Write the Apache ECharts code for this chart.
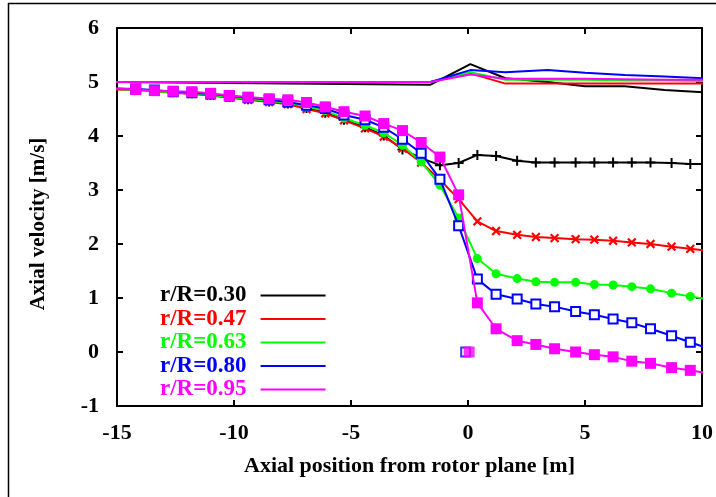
<!DOCTYPE html>
<html>
<head>
<meta charset="utf-8">
<script src="https://cdn.jsdelivr.net/npm/echarts@6/dist/echarts.min.js"></script>
<style>
html,body{margin:0;padding:0;background:#fff;}
#chart{width:716px;height:497px;}
</style>
</head>
<body>
<div id="chart"></div>
<script>
// ---- data ----
const seriesNames = ['r/R=0.30', 'r/R=0.47', 'r/R=0.63', 'r/R=0.80', 'r/R=0.95'];
const xTicks = [-15, -10, -5, 0, 5, 10];
const yTicks = [-1, 0, 1, 2, 3, 4, 5, 6];

// marker curves
const xPos = [-15.1, -14.2, -13.4, -12.6, -11.8, -11.0, -10.2, -9.4, -8.5, -7.7,
              -6.9, -6.1, -5.3, -4.4, -3.6, -2.8, -2.0, -1.2, -0.4, 0.4,
              1.2, 2.1, 2.9, 3.7, 4.6, 5.4, 6.2, 7.0, 7.8, 8.7, 9.5, 10.3];
const v030 = [4.87, 4.86, 4.84, 4.81, 4.79, 4.76, 4.72, 4.68, 4.64, 4.60,
              4.52, 4.43, 4.30, 4.16, 4.01, 3.75, 3.59, 3.46, 3.50, 3.65,
              3.63, 3.54, 3.51, 3.51, 3.51, 3.51, 3.51, 3.51, 3.51, 3.50, 3.48, 3.48];
const v047 = [4.86, 4.85, 4.83, 4.80, 4.78, 4.75, 4.71, 4.67, 4.63, 4.59,
              4.50, 4.42, 4.29, 4.14, 3.99, 3.77, 3.51, 3.19, 2.83, 2.42,
              2.24, 2.17, 2.13, 2.11, 2.09, 2.08, 2.06, 2.03, 2.00, 1.95, 1.91, 1.87];
const v063 = [4.87, 4.85, 4.83, 4.81, 4.79, 4.76, 4.72, 4.69, 4.65, 4.62,
              4.54, 4.47, 4.33, 4.20, 4.06, 3.83, 3.52, 3.09, 2.48, 1.73,
              1.45, 1.36, 1.30, 1.29, 1.29, 1.25, 1.24, 1.21, 1.17, 1.09, 1.03, 0.97];
const v080 = [4.88, 4.87, 4.85, 4.82, 4.80, 4.78, 4.74, 4.71, 4.67, 4.63,
              4.57, 4.51, 4.39, 4.30, 4.16, 3.94, 3.68, 3.20, 2.34, 1.35,
              1.07, 0.98, 0.89, 0.84, 0.75, 0.69, 0.61, 0.54, 0.43, 0.30, 0.18, 0.06];
const v095 = [4.88, 4.86, 4.84, 4.83, 4.82, 4.79, 4.75, 4.72, 4.69, 4.67,
              4.62, 4.54, 4.45, 4.37, 4.23, 4.10, 3.88, 3.61, 2.91, 0.91,
              0.43, 0.21, 0.14, 0.06, 0.00, -0.05, -0.09, -0.17, -0.21, -0.29, -0.34, -0.40];

// plain curves near 5 m/s
const xTop = [-15.1, -1.6, 0.1, 1.6, 3.4, 5.0, 6.7, 8.4, 10.1];
const top030 = [5.00, 4.95, 5.33, 5.07, 5.00, 4.92, 4.92, 4.85, 4.81];
const top047 = [5.00, 5.00, 5.16, 4.97, 4.97, 4.97, 4.97, 4.97, 4.97];
const top063 = [5.00, 5.00, 5.18, 5.04, 5.04, 5.04, 5.03, 5.03, 5.02];
const top080 = [5.00, 5.00, 5.22, 5.18, 5.22, 5.17, 5.13, 5.10, 5.07];
const top095 = [5.00, 5.00, 5.14, 5.06, 5.06, 5.06, 5.05, 5.04, 5.04];

// isolated points at the rotor plane
const rotorBlue = [[-0.1, 0.0]];
const rotorMagenta = [[0.05, 0.0]];

const colors = ['#000000', '#ff0000', '#00ff00', '#0000ff', '#ff00ff'];
const markerVals = [v030, v047, v063, v080, v095];
const topVals = [top030, top047, top063, top080, top095];

const plusPath = 'path://M4,0H6V4H10V6H6V10H4V6H0V4H4Z';
const markers = [
  {symbol: plusPath, size: 10, rotate: 0},
  {symbol: plusPath, size: 11, rotate: 45},
  {symbol: 'circle', size: 9, rotate: 0},
  {symbol: 'emptyRect', size: 9, rotate: 0},
  {symbol: 'rect', size: 11, rotate: 0}
];

const FONT = '"Liberation Serif", "Times New Roman", serif';

function pairs(xs, ys) { return xs.map((x, i) => [x, ys[i]]); }

const series = [];
// plain top lines
for (let i = 0; i < 5; i++) {
  series.push({
    name: 'top ' + seriesNames[i], type: 'line', data: pairs(xTop, topVals[i]),
    symbol: 'none', lineStyle: {color: colors[i], width: 2}, itemStyle: {color: colors[i]},
    z: 2, animation: false
  });
}
// marker lines
for (let i = 0; i < 5; i++) {
  series.push({
    name: seriesNames[i], type: 'line', data: pairs(xPos, markerVals[i]),
    symbol: markers[i].symbol, symbolSize: markers[i].size, symbolRotate: markers[i].rotate,
    showAllSymbol: true,
    lineStyle: {color: colors[i], width: 2},
    itemStyle: {color: colors[i], borderColor: colors[i], borderWidth: i === 3 ? 1.5 : 0},
    z: 3 + i, animation: false
  });
}
series.push({name: 'rotor blue', type: 'scatter', data: rotorBlue, symbol: 'emptyRect', symbolSize: 9,
  itemStyle: {color: '#0000ff', borderColor: '#0000ff', borderWidth: 1.5}, z: 9, animation: false});
series.push({name: 'rotor magenta', type: 'scatter', data: rotorMagenta, symbol: 'rect', symbolSize: 11,
  itemStyle: {color: '#ff00ff'}, z: 10, animation: false});

const axisLine = {show: true, onZero: false, lineStyle: {color: '#000', width: 2}};
const tickIn = {show: true, inside: true, length: 6, lineStyle: {color: '#000', width: 2}};
const labelStyle = {color: '#000', fontFamily: FONT, fontWeight: 'bold', fontSize: 22};

const option = {
  animation: false,
  backgroundColor: '#fff',
  grid: {left: 117, right: 11, top: 28, bottom: 91, containLabel: false},
  xAxis: [{
    type: 'value', min: xTicks[0], max: xTicks[xTicks.length - 1], interval: 5,
    position: 'bottom', axisLine: axisLine, axisTick: tickIn, splitLine: {show: false},
    axisLabel: Object.assign({margin: 16}, labelStyle),
    name: 'Axial position from rotor plane [m]', nameLocation: 'middle', nameGap: 49,
    nameTextStyle: {color: '#000', fontFamily: FONT, fontWeight: 'bold', fontSize: 22}
  }, {
    type: 'value', min: xTicks[0], max: xTicks[xTicks.length - 1], interval: 5,
    position: 'top', axisLine: axisLine, axisTick: tickIn, splitLine: {show: false},
    axisLabel: {show: false}
  }],
  yAxis: [{
    type: 'value', min: yTicks[0], max: yTicks[yTicks.length - 1], interval: 1,
    position: 'left', axisLine: axisLine, axisTick: tickIn, splitLine: {show: false},
    axisLabel: Object.assign({margin: 18}, labelStyle),
    name: 'Axial velocity [m/s]', nameLocation: 'middle', nameGap: 68,
    nameTextStyle: {color: '#000', fontFamily: FONT, fontWeight: 'bold', fontSize: 21, padding: [0, 14, 0, 0]}
  }, {
    type: 'value', min: yTicks[0], max: yTicks[yTicks.length - 1], interval: 1,
    position: 'right', axisLine: axisLine, axisTick: tickIn, splitLine: {show: false},
    axisLabel: {show: false}
  }],
  legend: {
    orient: 'vertical', left: 160, top: 284, padding: 0,
    align: 'right', icon: 'rect', itemWidth: 65, itemHeight: 2, itemGap: 0.5,
    selectedMode: false,
    itemStyle: {borderWidth: 0},
    textStyle: {fontFamily: FONT, fontWeight: 'bold', fontSize: 23, lineHeight: 20, padding: [0, 9, 0, 0]},
    data: seriesNames.map((n, i) => ({name: n, textStyle: {color: colors[i]}, itemStyle: {color: colors[i], borderWidth: 0}}))
  },
  graphic: [
    {type: 'line', shape: {x1: 8.5, y1: 3, x2: 8.5, y2: 497}, style: {stroke: '#000', lineWidth: 1.5}, silent: true},
    {type: 'line', shape: {x1: 8, y1: 3.5, x2: 716, y2: 3.5}, style: {stroke: '#000', lineWidth: 1.5}, silent: true}
  ],
  series: series
};

const chart = echarts.init(document.getElementById('chart'), null, {renderer: 'canvas'});
chart.setOption(option);
</script>
</body>
</html>
